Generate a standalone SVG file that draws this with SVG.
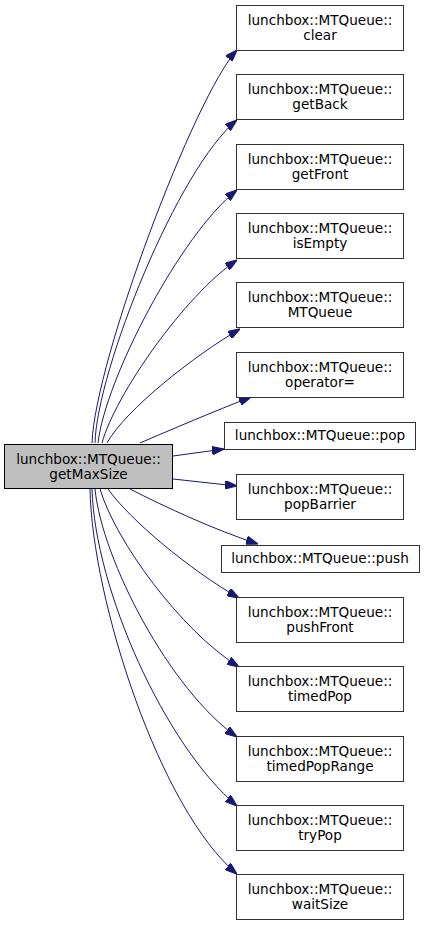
<svg xmlns="http://www.w3.org/2000/svg" width="424" height="925" viewBox="0 0 424 925">
<style>
.n rect{fill:#ffffff;stroke:#333333;stroke-width:1}
.m rect{fill:#bfbfbf;stroke:#000000;stroke-width:1}
text{font-family:"DejaVu Sans","Liberation Sans",sans-serif;font-size:13.6px;fill:#000000;text-anchor:middle}
.e path{fill:none;stroke:#191970;stroke-width:1;marker-end:url(#ah)}
</style>
<defs>
<marker id="ah" viewBox="0 0 10 7" refX="10" refY="3.5" markerWidth="12" markerHeight="8.5" markerUnits="userSpaceOnUse" orient="auto">
<polygon points="0,0 10,3.5 0,7" fill="#191970" stroke="#191970"/>
</marker>
</defs>
<rect width="424" height="925" fill="#ffffff"/>
<g id="edges" class="e">
<path d="M92,443 C95,360 195,95 237,50"/>
<path d="M95,443 C97,370 178,168 237,120"/>
<path d="M98,443 C105,380 180,235 237,190"/>
<path d="M102,443 C115,395 185,295 237,260"/>
<path d="M107,443 C125,410 195,355 240,329"/>
<path d="M140,443 C170,430 215,411 251,397"/>
<path d="M173,456 L224,449"/>
<path d="M173,479 L237,486"/>
<path d="M130,489 C165,507 215,530 258,544"/>
<path d="M108,489 C130,520 190,570 239,598"/>
<path d="M100,489 C115,540 180,630 239,667"/>
<path d="M95,489 C102,560 170,690 237,737"/>
<path d="M92,489 C95,590 165,745 237,806"/>
<path d="M90,489 C92,600 160,810 237,874"/>
</g>
<g id="getMaxSize" class="m"><rect x="4.5" y="444.5" width="168" height="44"/><text x="88.5" y="464">lunchbox::MTQueue::</text><text x="88.5" y="479">getMaxSize</text></g>
<g id="clear" class="n"><rect x="236.5" y="5.5" width="167" height="45"/><text x="320" y="25">lunchbox::MTQueue::</text><text x="320" y="40">clear</text></g>
<g id="getBack" class="n"><rect x="236.5" y="74.5" width="167" height="45"/><text x="320" y="94">lunchbox::MTQueue::</text><text x="320" y="109">getBack</text></g>
<g id="getFront" class="n"><rect x="236.5" y="144.5" width="167" height="45"/><text x="320" y="164">lunchbox::MTQueue::</text><text x="320" y="179">getFront</text></g>
<g id="isEmpty" class="n"><rect x="236.5" y="213.5" width="167" height="45"/><text x="320" y="233">lunchbox::MTQueue::</text><text x="320" y="248">isEmpty</text></g>
<g id="MTQueue" class="n"><rect x="236.5" y="282.5" width="167" height="45"/><text x="320" y="302">lunchbox::MTQueue::</text><text x="320" y="317">MTQueue</text></g>
<g id="operator_eq" class="n"><rect x="236.5" y="352.5" width="167" height="45"/><text x="320" y="372">lunchbox::MTQueue::</text><text x="320" y="387">operator=</text></g>
<g id="pop" class="n"><rect x="224.5" y="422.5" width="191" height="27"/><text x="320" y="440">lunchbox::MTQueue::pop</text></g>
<g id="popBarrier" class="n"><rect x="236.5" y="474.5" width="167" height="45"/><text x="320" y="494">lunchbox::MTQueue::</text><text x="320" y="509">popBarrier</text></g>
<g id="push" class="n"><rect x="221.5" y="545.5" width="198" height="27"/><text x="320" y="563">lunchbox::MTQueue::push</text></g>
<g id="pushFront" class="n"><rect x="236.5" y="597.5" width="167" height="45"/><text x="320" y="617">lunchbox::MTQueue::</text><text x="320" y="632">pushFront</text></g>
<g id="timedPop" class="n"><rect x="236.5" y="666.5" width="167" height="45"/><text x="320" y="686">lunchbox::MTQueue::</text><text x="320" y="701">timedPop</text></g>
<g id="timedPopRange" class="n"><rect x="236.5" y="736.5" width="167" height="45"/><text x="320" y="756">lunchbox::MTQueue::</text><text x="320" y="771">timedPopRange</text></g>
<g id="tryPop" class="n"><rect x="236.5" y="805.5" width="167" height="45"/><text x="320" y="825">lunchbox::MTQueue::</text><text x="320" y="840">tryPop</text></g>
<g id="waitSize" class="n"><rect x="236.5" y="874.5" width="167" height="45"/><text x="320" y="894">lunchbox::MTQueue::</text><text x="320" y="909">waitSize</text></g>
</svg>
